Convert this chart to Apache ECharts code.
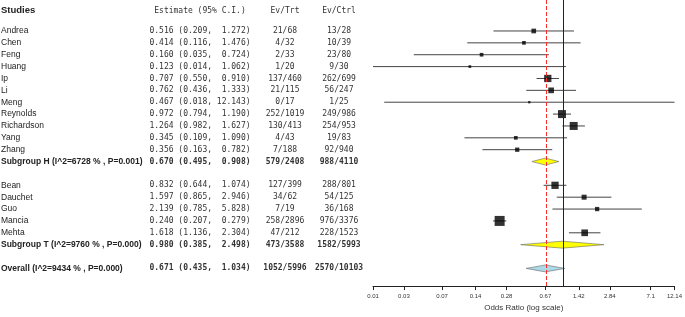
<!DOCTYPE html>
<html>
<head>
<meta charset="utf-8">
<script src="https://cdn.jsdelivr.net/npm/echarts@6/dist/echarts.min.js"></script>
<style>
html, body { margin: 0; padding: 0; background: #fff; }
#main { width: 685px; height: 317px; }
</style>
</head>
<body>
<div id="main"></div>
<script>
// 研究数据
var studies = ['Andrea', 'Chen', 'Feng', 'Huang', 'Ip', 'Li', 'Meng', 'Reynolds', 'Richardson', 'Yang', 'Zhang',
    'Subgroup H (I^2=6728 % , P=0.001)',
    'Bean', 'Dauchet', 'Guo', 'Mancia', 'Mehta',
    'Subgroup T (I^2=9760 % , P=0.000)',
    'Overall (I^2=9434 % , P=0.000)'];
// s = study, g = subgroup, o = overall
var kinds = ['s', 's', 's', 's', 's', 's', 's', 's', 's', 's', 's', 'g', 's', 's', 's', 's', 's', 'g', 'o'];
var estimate = [0.516, 0.414, 0.160, 0.123, 0.707, 0.762, 0.467, 0.972, 1.264, 0.345, 0.356, 0.670,
    0.832, 1.597, 2.139, 0.240, 1.618, 0.980, 0.671];
var lower = [0.209, 0.116, 0.035, 0.014, 0.550, 0.436, 0.018, 0.794, 0.982, 0.109, 0.163, 0.495,
    0.644, 0.865, 0.785, 0.207, 1.136, 0.385, 0.435];
var upper = [1.272, 1.476, 0.724, 1.062, 0.910, 1.333, 12.143, 1.190, 1.627, 1.090, 0.782, 0.908,
    1.074, 2.946, 5.828, 0.279, 2.304, 2.498, 1.034];
var evTrt = ['21/68', '4/32', '2/33', '1/20', '137/460', '21/115', '0/17', '252/1019', '130/413', '4/43', '7/188', '579/2408',
    '127/399', '34/62', '7/19', '258/2896', '47/212', '473/3588', '1052/5996'];
var evCtrl = ['13/28', '10/39', '23/80', '9/30', '262/699', '56/247', '1/25', '249/986', '254/953', '19/83', '92/940', '988/4110',
    '288/801', '54/125', '36/168', '976/3376', '228/1523', '1582/5993', '2570/10103'];
// 相对权重 (方块面积)
var weights = [5.5, 3.4, 3.4, 1.8, 13.3, 8.1, 1.3, 16, 16, 3.4, 4.6, 0,
    13.3, 6.25, 4.6, 25, 11.2, 0, 0];
var tickValues = [0.014, 0.028, 0.066, 0.14, 0.28, 0.67, 1.42, 2.84, 7.1, 12.14];
var tickLabels = ['0.01', '0.03', '0.07', '0.14', '0.28', '0.67', '1.42', '2.84', '7.1', '12.14'];
var pooledOR = 0.671;

var lg = Math.log10;

// 行号: 每个亚组之后空一行
var rowOf = [];
var r = 0;
for (var i = 0; i < studies.length; i++) {
    rowOf.push(r);
    r += kinds[i] === 'g' ? 2 : 1;
}

function pad(s, n) {
    while (s.length < n) s = ' ' + s;
    return s;
}
function ciText(i) {
    return estimate[i].toFixed(3) + ' (' + lower[i].toFixed(3) + ', ' + pad(upper[i].toFixed(3), 6) + ')';
}

var SANS = '"Liberation Sans", Arial, sans-serif';
var MONO = '"DejaVu Sans Mono", monospace';

var ciData = [], boxData = [], diamondData = [], textData = [];
for (var i = 0; i < studies.length; i++) {
    textData.push([0, rowOf[i], i]);
    if (kinds[i] === 's') {
        ciData.push([lg(lower[i]), lg(upper[i]), rowOf[i]]);
        boxData.push({ value: [lg(estimate[i]), rowOf[i]], symbolSize: Math.sqrt(weights[i]) * 2 });
    } else {
        diamondData.push([lg(estimate[i]), rowOf[i], lg(lower[i]), lg(upper[i]), kinds[i] === 'o' ? 1 : 0]);
    }
}

var myChart = echarts.init(document.getElementById('main'));
var option = {
    animation: false,
    grid: { left: 373, right: 8, top: 0, bottom: 26 },
    xAxis: {
        type: 'value',
        min: lg(0.014),
        max: lg(12.143),
        name: 'Odds Ratio (log scale)',
        nameLocation: 'middle',
        nameGap: 15,
        nameTextStyle: { fontFamily: SANS, fontSize: 8, color: '#333' },
        axisLine: { onZero: false, lineStyle: { color: '#222', width: 1 } },
        axisTick: { length: 4, lineStyle: { color: '#222' }, customValues: tickValues.map(lg) },
        axisLabel: {
            customValues: tickValues.map(lg),
            showMinLabel: true,
            showMaxLabel: true,
            fontFamily: SANS,
            fontSize: 6,
            color: '#333',
            margin: 7,
            formatter: function (v) {
                for (var k = 0; k < tickValues.length; k++) {
                    if (Math.abs(lg(tickValues[k]) - v) < 1e-9) return tickLabels[k];
                }
                return '';
            }
        },
        splitLine: { show: false }
    },
    yAxis: {
        type: 'value',
        inverse: true,
        min: -2.61,
        max: 21.49,
        show: false
    },
    graphic: [
        { type: 'text', left: 1, top: 5, style: { text: 'Studies', font: 'bold 9.5px ' + SANS, fill: '#222' } },
        { type: 'text', x: 200, y: 11, style: { text: 'Estimate (95% C.I.)', font: '8px ' + MONO, fill: '#333', align: 'center', verticalAlign: 'middle' } },
        { type: 'text', x: 285, y: 11, style: { text: 'Ev/Trt', font: '8px ' + MONO, fill: '#333', align: 'center', verticalAlign: 'middle' } },
        { type: 'text', x: 339, y: 11, style: { text: 'Ev/Ctrl', font: '8px ' + MONO, fill: '#333', align: 'center', verticalAlign: 'middle' } }
    ],
    series: [
        {
            // 参考线
            type: 'line',
            data: [],
            z: 1,
            markLine: {
                silent: true,
                symbol: 'none',
                label: { show: false },
                data: [
                    { xAxis: 0, lineStyle: { color: '#222', type: 'solid', width: 1 } },
                    { xAxis: lg(pooledOR), lineStyle: { color: '#ff2a2a', type: [4, 2], width: 1 } }
                ]
            }
        },
        {
            type: 'custom',
            z: 2,
            silent: true,
            data: ciData,
            renderItem: function (params, api) {
                var a = api.coord([api.value(0), api.value(2)]);
                var b = api.coord([api.value(1), api.value(2)]);
                return {
                    type: 'line',
                    shape: { x1: a[0], y1: a[1], x2: b[0], y2: b[1] },
                    style: { stroke: '#444', lineWidth: 1 }
                };
            }
        },
        {
            type: 'scatter',
            z: 3,
            silent: true,
            symbol: 'rect',
            itemStyle: { color: '#000' },
            data: boxData
        },
        {
            type: 'custom',
            z: 3,
            silent: true,
            data: diamondData,
            renderItem: function (params, api) {
                var c = api.coord([api.value(0), api.value(1)]);
                var l = api.coord([api.value(2), api.value(1)]);
                var h = api.coord([api.value(3), api.value(1)]);
                var hh = 3.5;
                return {
                    type: 'polygon',
                    shape: { points: [[l[0], c[1]], [c[0], c[1] - hh], [h[0], c[1]], [c[0], c[1] + hh]] },
                    style: { fill: api.value(4) ? '#add8e6' : '#ffff00', stroke: '#666', lineWidth: 0.6 }
                };
            }
        },
        {
            // 左侧表格文字
            type: 'custom',
            clip: false,
            silent: true,
            data: textData,
            renderItem: function (params, api) {
                var i = api.value(2);
                var y = api.coord([0, api.value(1)])[1];
                var bold = kinds[i] !== 's' ? 'bold ' : '';
                return {
                    type: 'group',
                    children: [
                        { type: 'text', style: { x: 1, y: y, text: studies[i], font: bold + '8.5px ' + SANS, fill: '#222', verticalAlign: 'middle' } },
                        { type: 'text', style: { x: 200, y: y, text: ciText(i), font: bold + '8px ' + MONO, fill: '#333', align: 'center', verticalAlign: 'middle' } },
                        { type: 'text', style: { x: 285, y: y, text: evTrt[i], font: bold + '8px ' + MONO, fill: '#333', align: 'center', verticalAlign: 'middle' } },
                        { type: 'text', style: { x: 339, y: y, text: evCtrl[i], font: bold + '8px ' + MONO, fill: '#333', align: 'center', verticalAlign: 'middle' } }
                    ]
                };
            }
        }
    ]
};
myChart.setOption(option);
</script>
</body>
</html>
